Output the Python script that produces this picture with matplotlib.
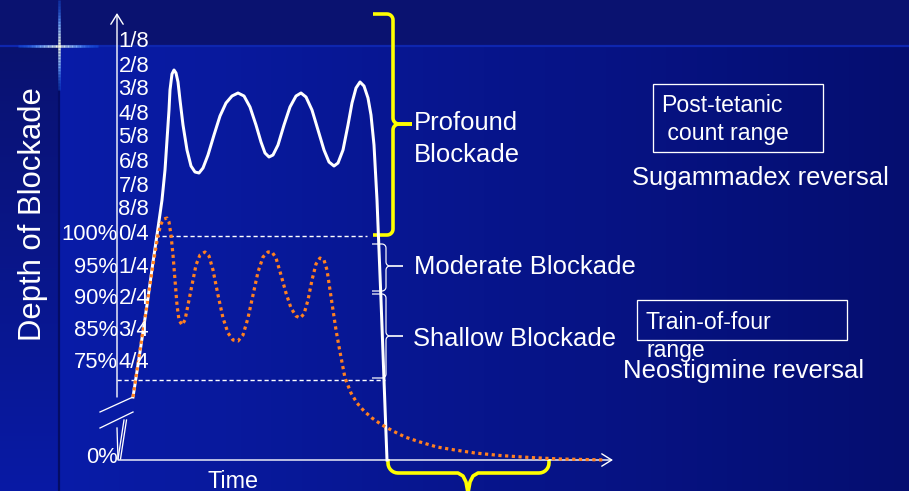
import numpy as np
import matplotlib
matplotlib.use("Agg")
import matplotlib.pyplot as plt
from matplotlib.collections import LineCollection
from matplotlib.patches import Rectangle

plt.rcParams['font.family'] = ['Liberation Sans', 'DejaVu Sans']

# ---------------------------------------------------------------- data
# time measured from the origin of the chart, depth = height above 0 %
profound_time = [15, 22, 29, 35, 40, 44, 47, 49, 51, 52, 54, 56, 58, 60, 62, 65, 69, 73,
                 77, 81, 85, 90, 96, 102, 108, 114, 120, 126, 132, 138, 143, 147, 151,
                 155, 160, 166, 172, 178, 183, 188, 194, 200, 206, 211, 216, 220, 225,
                 230, 234, 238, 242, 246, 250, 253, 256, 259, 263, 266, 269]
profound_depth = [63, 108, 155, 198, 232, 260, 290, 320, 350, 370, 386, 390, 387, 378,
                  360, 335, 310, 294, 288, 287, 292, 305, 325, 344, 357, 364, 367, 364,
                  353, 335, 318, 307, 303, 305, 315, 335, 353, 364, 367, 363, 350, 330,
                  310, 298, 294, 297, 310, 335, 357, 372, 378, 374, 362, 345, 315, 260,
                  160, 80, 0]

tof_time = [15, 22, 29, 35, 40, 43, 46, 49, 51, 53, 55, 57, 59, 61, 64, 67, 70, 74, 78,
            82, 87, 91, 95, 100, 105, 110, 115, 120, 125, 130, 135, 140, 145, 150, 154,
            158, 163, 168, 173, 178, 182, 186, 190, 194, 198, 202, 206, 209, 212, 215,
            218, 222, 227, 233, 239, 246, 254, 264, 275, 287, 302, 319, 337, 357, 382,
            412, 442, 472, 487]
tof_depth = [63, 110, 155, 195, 225, 236, 241, 242, 238, 225, 205, 180, 155, 140, 135,
             140, 155, 175, 195, 205, 208, 204, 190, 165, 142, 127, 120, 119, 125, 142,
             165, 188, 203, 208, 208, 202, 185, 167, 152, 144, 142, 146, 160, 180, 196,
             202, 200, 190, 170, 150, 130, 108, 82, 67, 57, 49, 42, 35, 29, 23, 18, 13,
             10, 7, 4.5, 2.5, 1, 0.4, 0]

frac_labels = ['1/8', '2/8', '3/8', '4/8', '5/8', '6/8', '7/8', '8/8',
               '0/4', '1/4', '2/4', '3/4', '4/4']
frac_levels = [413, 388, 365, 340, 317, 292, 268, 245, 220, 187, 156, 124, 92]
pct_labels = ['100%', '95%', '90%', '85%', '75%', '0%']
pct_levels = [220, 187, 156, 124, 92, -3]
ptc_floor = 224      # boundary between profound and moderate blockade
tof_floor = 80       # boundary of the train-of-four range

# ---------------------------------------------------------------- figure
W, H, DPI = 909, 491, 100


def pt(px):
    return px * 72.0 / DPI


fig = plt.figure(figsize=(W / DPI, H / DPI), dpi=DPI)

# background / decoration axes in pixel units
deco = fig.add_axes([0, 0, 1, 1], zorder=0)
deco.set_xlim(0, W)
deco.set_ylim(H, 0)
deco.axis('off')

yy, xx = np.mgrid[0:H, 0:W]
c_left = np.array([9, 28, 168]) / 255
c_right = np.array([5, 14, 112]) / 255
c_top = np.array([10, 18, 112]) / 255
c_strip_bot = np.array([8, 26, 165]) / 255
f = np.clip((xx - 58) / (W - 58), 0, 1)[..., None]
img = c_left * (1 - f) + c_right * f
g = np.clip((yy - 45) / (H - 45), 0, 1)[..., None]
strip = c_top * (1 - g) + c_strip_bot * g
img = np.where(((xx < 58) & (yy >= 45))[..., None], strip, img)
img = np.where((yy < 45)[..., None], c_top, img)
deco.imshow(img, extent=(0, W, H, 0), aspect='auto', interpolation='bilinear', zorder=0)

deco.plot([0, W], [45.5, 45.5], color=(14 / 255, 38 / 255, 175 / 255), lw=pt(2.2), zorder=1)
deco.plot([58.5, 58.5], [46, H], color=(4 / 255, 12 / 255, 100 / 255), lw=pt(2.2), zorder=1)


def sparkle_line(p0, p1, n=60):
    t = np.linspace(0, 1, n + 1)
    xs = p0[0] + (p1[0] - p0[0]) * t
    ys = p0[1] + (p1[1] - p0[1]) * t
    segs = [[(xs[i], ys[i]), (xs[i + 1], ys[i + 1])] for i in range(n)]
    tm = (t[:-1] + t[1:]) / 2
    w = np.clip(1 - np.abs(tm - 0.5) * 2, 0, 1) ** 1.6
    blue = np.array([30, 110, 255]) / 255
    white = np.array([255, 255, 225]) / 255
    cols = [tuple(blue * (1 - wi) + white * wi) + (0.35 + 0.65 * min(1, wi * 3),) for wi in w]
    deco.add_collection(LineCollection(segs, colors=cols, linewidths=pt(2.5), zorder=2))


sparkle_line((18, 45.5), (98, 45.5))
sparkle_line((58.5, 0), (58.5, 90))


def arc(cx, cy, r, a0, a1, n=8):
    a = np.radians(np.linspace(a0, a1, n))
    return list(zip(cx + r * np.cos(a), cy + r * np.sin(a)))


def vbrace(x0, x1, xt, y0, y1, ym, r, **kw):
    # right-pointing curly brace, pixel coords (y downward)
    pts = [(x0, y0)]
    pts += arc(x1 - r, y0 + r, r, -90, 0)
    pts += arc(x1 + r, ym - r, r, 180, 90)
    pts += [(xt, ym)]
    deco.plot(*zip(*pts), solid_capstyle='butt', solid_joinstyle='round', **kw)
    pts = [(xt, ym)]
    pts += arc(x1 + r, ym + r, r, 270, 180)
    pts += arc(x1 - r, y1 - r, r, 0, 90)
    pts += [(x0, y1)]
    deco.plot(*zip(*pts), solid_capstyle='butt', solid_joinstyle='round', **kw)


def hbrace(x0, x1, xm, ytop, ybar, ytip, r, **kw):
    pts = [(x0, ytop)]
    pts += arc(x0 + r, ybar - r, r, 180, 90)
    pts += [(xm - 10, ybar)]
    pts += [(xm - 5, ybar + 3), (xm - 2, ybar + 9), (xm, ytip)]
    pts += [(xm + 2, ybar + 9), (xm + 5, ybar + 3), (xm + 10, ybar)]
    pts += arc(x1 - r, ybar - r, r, 90, 0)
    pts += [(x1, ytop)]
    deco.plot(*zip(*pts), solid_capstyle='butt', solid_joinstyle='round', **kw)


yellow = '#ffff00'
vbrace(373, 393, 412, 14, 235, 124, 6, color=yellow, lw=pt(3.6), zorder=5)
hbrace(388, 549, 468, 459, 473, 493, 10, color=yellow, lw=pt(3.6), zorder=5)
vbrace(372, 386, 403, 244, 291, 266, 4, color='white', lw=pt(1.2), zorder=5)
vbrace(372, 386, 403, 294, 378, 336, 4, color='white', lw=pt(1.2), zorder=5)

# axis break marks
for seg in [((100, 412), (133, 397)), ((100, 428), (133, 412)),
            ((117, 428), (118, 459)), ((124, 420), (118, 459)), ((126.5, 420), (120.5, 459))]:
    deco.plot(*zip(*seg), color='white', lw=pt(1.3), zorder=5)

# annotation text
big = pt(25.6)
box = pt(23)
txt = dict(color='white', va='baseline', ha='left', zorder=6)
deco.text(414, 130, 'Profound', fontsize=big, **txt)
deco.text(414, 162, 'Blockade', fontsize=big, **txt)
deco.text(414, 274, 'Moderate Blockade', fontsize=big, **txt)
deco.text(413, 346, 'Shallow Blockade', fontsize=big, **txt)
deco.text(632, 185, 'Sugammadex reversal', fontsize=big, **txt)
deco.text(623, 378, 'Neostigmine reversal', fontsize=big, **txt)
deco.text(661, 112, 'Post-tetanic', fontsize=box, **txt)
deco.text(661, 140, ' count range', fontsize=box, **txt)
deco.text(646, 329, 'Train-of-four', fontsize=box, **txt)
deco.text(646, 357, 'range', fontsize=box, **txt)
deco.add_patch(Rectangle((653, 84), 170, 68, fill=False, ec='white', lw=pt(1.3), zorder=6))
deco.add_patch(Rectangle((637, 300), 210, 40, fill=False, ec='white', lw=pt(1.3), zorder=6))
deco.text(233, 488, 'Time', fontsize=pt(23.4), color='white', ha='center', va='baseline', zorder=6)
deco.text(41, 214, 'Depth of Blockade', fontsize=pt(31), color='white', rotation=90,
          rotation_mode='anchor', ha='center', va='baseline', zorder=6)

# ---------------------------------------------------------------- chart axes
ax = fig.add_axes([0, 0, 1, 1], zorder=1)
ax.set_xlim(-118, W - 118)
ax.set_ylim(-(H - 460), 460)
ax.axis('off')
ax.patch.set_alpha(0)

arrow = dict(arrowstyle='->,head_length=0.45,head_width=0.28', color='white',
             lw=pt(1.4), shrinkA=0, shrinkB=0, mutation_scale=pt(22))
ax.annotate('', xy=(-1, 447), xytext=(-1, 63), arrowprops=arrow)
ax.annotate('', xy=(495, 0), xytext=(0, 0), arrowprops=arrow)

ax.plot([37, 249], [ptc_floor, ptc_floor], color='white', lw=pt(1.4), ls=(0, (3, 2)))
ax.plot([-1, 267], [tof_floor, tof_floor], color='white', lw=pt(1.4), ls=(0, (3, 2)))

ax.plot(profound_time, profound_depth, color='white', lw=pt(3.0),
        solid_joinstyle='round', zorder=3)
ax.plot(tof_time, tof_depth, color='#ff8020', lw=pt(3.2), ls=(0, (1, 1.1)),
        dash_capstyle='butt', zorder=4)

tick_fs = pt(22)
for lab, lev in zip(frac_labels, frac_levels):
    ax.text(0.5, lev, lab, color='white', fontsize=tick_fs, ha='left', va='baseline', zorder=6)
for lab, lev in zip(pct_labels, pct_levels):
    ax.text(0, lev, lab, color='white', fontsize=tick_fs, ha='right', va='baseline', zorder=6)

fig.savefig('out.png', dpi=DPI)
